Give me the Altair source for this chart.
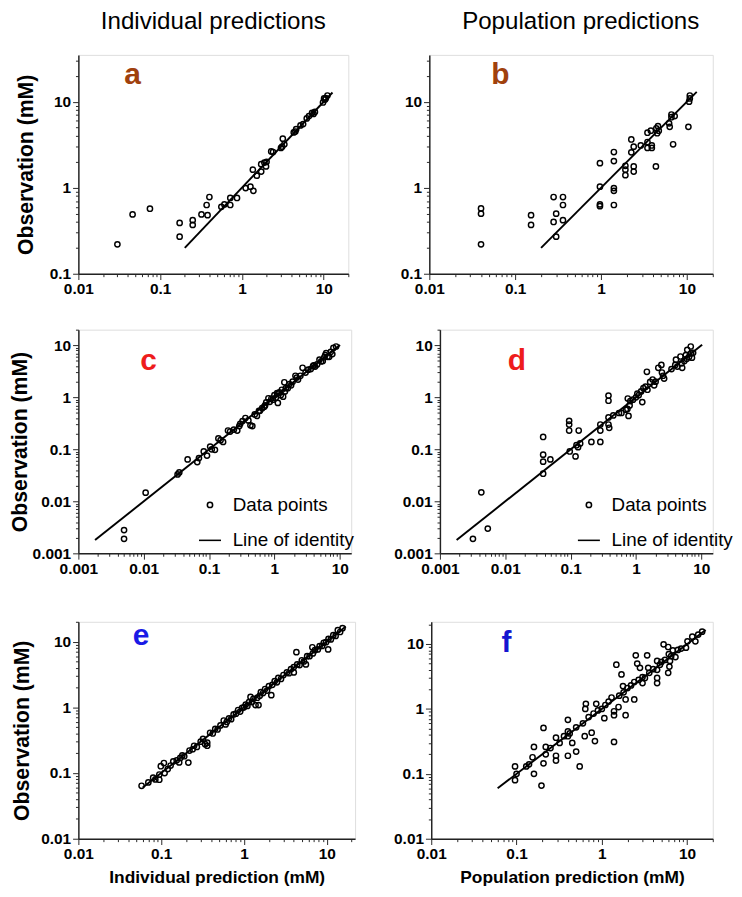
import altair as alt
import pandas as pd

FONT = "Liberation Sans"

col_titles = ["Individual predictions", "Population predictions"]
x_titles = ["Individual prediction (mM)", "Population prediction (mM)"]
y_title = "Observation (mM)"
legend_labels = ["Data points", "Line of identity"]
letters = ["a", "b", "c", "d", "e", "f"]
letter_colors = ["#a0410d", "#a0410d", "#ee1c1c", "#ee1c1c", "#1a1ae6", "#1515d0"]

# (prediction, observation) pairs
pts_a = [(0.030, 0.22), (0.046, 0.49), (0.075, 0.57), (0.173, 0.39), (0.173, 0.27), (0.25, 0.42),
         (0.25, 0.37), (0.32, 0.49), (0.38, 0.48), (0.37, 0.63), (0.40, 0.78), (0.56, 0.60),
         (0.61, 0.64), (0.72, 0.63), (0.72, 0.76), (0.87, 0.76), (1.11, 0.99), (1.27, 1.03),
         (1.38, 0.92), (1.36, 1.62), (1.52, 1.38), (1.72, 1.54), (1.72, 1.88), (1.88, 1.96),
         (1.97, 1.77), (2.0, 2.0), (2.28, 2.64), (2.4, 2.6), (3.0, 2.9), (3.1, 3.0), (3.16, 3.72),
         (3.3, 3.2), (4.3, 4.4), (4.5, 4.5), (4.6, 4.8), (5.2, 5.3), (5.6, 5.5), (6.2, 6.4),
         (6.6, 6.8), (7.2, 7.4), (7.5, 7.2), (7.8, 7.6), (9.8, 9.8), (10.1, 10.9), (10.4, 10.6),
         (10.6, 11.0), (11.1, 11.8)]
pts_b = [(0.040, 0.22), (0.040, 0.575), (0.040, 0.50), (0.153, 0.48), (0.153, 0.37), (0.28, 0.78),
         (0.28, 0.40), (0.30, 0.50), (0.36, 0.78), (0.36, 0.63), (0.36, 0.42), (0.30, 0.27),
         (0.97, 1.03), (0.97, 0.64), (0.97, 0.61), (0.97, 1.93), (1.41, 2.6), (1.41, 2.04),
         (1.41, 0.99), (1.41, 0.92), (1.41, 0.63), (1.92, 1.8), (1.92, 1.62), (1.92, 1.4),
         (2.25, 3.64), (2.25, 2.58), (2.4, 3.0), (2.4, 1.77), (2.4, 1.54), (2.9, 3.1),
         (3.47, 4.36), (3.47, 3.4), (3.47, 2.9), (3.9, 3.1), (3.9, 2.9), (3.8, 4.6), (4.35, 1.77),
         (4.4, 4.9), (4.6, 5.2), (4.7, 4.6), (4.5, 4.3), (6.2, 5.6), (6.3, 5.1), (6.9, 3.2),
         (6.6, 7.1), (6.6, 6.6), (7.2, 6.8), (10.4, 5.1), (10.8, 11.8), (10.8, 10.9), (10.6, 10.0)]
pts_c = [(0.005, 0.0028), (0.005, 0.0019), (0.0107, 0.0147), (0.033, 0.033), (0.035, 0.036),
         (0.047, 0.064), (0.066, 0.057), (0.070, 0.068), (0.083, 0.091), (0.093, 0.076),
         (0.104, 0.113), (0.11, 0.10), (0.123, 0.098), (0.139, 0.162), (0.15, 0.15), (0.164, 0.139),
         (0.195, 0.23), (0.21, 0.22), (0.24, 0.24), (0.27, 0.23), (0.29, 0.28), (0.3, 0.31),
         (0.325, 0.35), (0.36, 0.40), (0.40, 0.36), (0.43, 0.29), (0.46, 0.28), (0.5, 0.47),
         (0.54, 0.44), (0.58, 0.55), (0.60, 0.55), (0.65, 0.62), (0.70, 0.66), (0.72, 0.7),
         (0.75, 0.80), (0.81, 0.96), (0.85, 0.82), (0.9, 0.95), (0.95, 0.9), (1.0, 1.1), (1.05, 0.98),
         (1.1, 1.2), (1.13, 0.78), (1.15, 1.2), (1.2, 1.25), (1.25, 1.1), (1.3, 1.4), (1.36, 1.03),
         (1.42, 1.95), (1.45, 1.3), (1.5, 1.5), (1.6, 1.5), (1.7, 1.8), (1.8, 1.7), (1.9, 2.0),
         (2.1, 2.6), (2.2, 2.4), (2.3, 2.2), (2.5, 2.6), (2.7, 3.7), (3.0, 3.0), (3.3, 3.4),
         (3.6, 3.5), (3.9, 4.0), (4.0, 4.1), (4.2, 3.9), (4.5, 4.3), (4.9, 5.3), (5.2, 4.9),
         (5.5, 5.0), (5.8, 5.9), (6.0, 6.5), (6.2, 7.1), (6.5, 6.0), (6.9, 6.0), (7.3, 7.5),
         (7.7, 6.8), (8.0, 8.9), (8.8, 9.5)]
pts_d = [(0.0032, 0.0019), (0.0054, 0.003), (0.0043, 0.0149), (0.038, 0.173), (0.038, 0.079),
         (0.038, 0.058), (0.038, 0.034), (0.049, 0.064), (0.095, 0.354), (0.095, 0.30),
         (0.095, 0.23), (0.097, 0.091), (0.133, 0.23), (0.123, 0.12), (0.13, 0.11), (0.119, 0.073),
         (0.14, 0.13), (0.208, 0.139), (0.285, 0.139), (0.285, 0.23), (0.285, 0.30), (0.38, 1.08),
         (0.38, 0.86), (0.38, 0.41), (0.38, 0.30), (0.39, 0.26), (0.45, 0.45), (0.55, 0.5),
         (0.6, 0.5), (0.77, 0.44), (0.74, 0.6), (0.7, 0.58), (0.75, 0.95), (0.8, 0.7), (0.82, 0.85),
         (0.9, 0.9), (1.0, 1.0), (1.05, 1.18), (1.1, 1.1), (1.25, 0.81), (1.2, 1.3), (1.3, 1.5),
         (1.47, 3.1), (1.4, 1.6), (1.5, 1.4), (1.65, 1.98), (1.8, 2.2), (1.9, 1.7), (2.0, 2.0),
         (2.2, 3.7), (2.45, 4.2), (2.6, 2.6), (2.5, 3.0), (2.7, 2.3), (3.5, 3.5), (4.1, 5.3),
         (4.0, 4.2), (4.3, 3.9), (4.8, 6.1), (5.1, 3.7), (5.0, 4.5), (5.5, 5.0), (5.8, 6.5),
         (6.1, 8.2), (6.0, 5.5), (6.5, 6.0), (6.9, 9.5), (7.2, 5.8), (7.0, 7.0), (7.5, 7.2)]
pts_e = [(0.058, 0.064), (0.07, 0.072), (0.08, 0.085), (0.085, 0.08), (0.095, 0.095), (0.095, 0.079),
         (0.099, 0.127), (0.108, 0.142), (0.11, 0.1), (0.12, 0.115), (0.13, 0.13), (0.14, 0.15),
         (0.154, 0.156), (0.165, 0.145), (0.17, 0.17), (0.18, 0.185), (0.19, 0.18), (0.213, 0.144),
         (0.22, 0.22), (0.24, 0.23), (0.25, 0.26), (0.27, 0.25), (0.3, 0.3), (0.32, 0.33),
         (0.34, 0.275), (0.36, 0.29), (0.36, 0.26), (0.39, 0.41), (0.42, 0.4), (0.45, 0.47),
         (0.48, 0.46), (0.52, 0.53), (0.57, 0.63), (0.6, 0.55), (0.62, 0.6), (0.66, 0.68),
         (0.7, 0.66), (0.75, 0.78), (0.8, 0.8), (0.85, 0.91), (0.9, 0.86), (0.95, 0.98), (1.0, 1.0),
         (1.05, 1.1), (1.1, 1.05), (1.15, 1.2), (1.2, 1.44), (1.25, 1.2), (1.3, 1.35), (1.38, 1.08),
         (1.45, 1.4), (1.5, 1.08), (1.55, 1.5), (1.6, 1.7), (1.7, 1.65), (1.8, 1.9), (1.9, 1.8),
         (2.0, 2.1), (2.14, 1.53), (2.2, 2.2), (2.35, 2.5), (2.5, 2.4), (2.6, 2.8), (2.8, 2.7),
         (3.0, 3.1), (3.3, 3.4), (3.5, 3.3), (3.7, 3.8), (4.0, 3.4), (4.0, 4.1), (4.3, 6.9),
         (4.4, 4.5), (4.7, 4.4), (5.0, 5.2), (5.3, 5.0), (5.6, 4.5), (5.8, 6.0), (6.2, 6.0),
         (6.7, 8.2), (6.8, 6.6), (7.2, 7.4), (7.8, 7.6), (8.2, 8.5), (8.8, 8.6), (9.2, 9.6),
         (9.8, 9.8), (10.4, 7.6), (10.5, 11.0), (11.2, 10.8), (12.0, 12.5), (12.8, 12.2),
         (13.6, 14.9), (14.5, 14.0), (15.5, 16.0)]
pts_f = [(0.096, 0.13), (0.096, 0.08), (0.1, 0.1), (0.13, 0.13), (0.14, 0.14), (0.154, 0.18),
         (0.16, 0.26), (0.16, 0.10), (0.196, 0.066), (0.207, 0.51), (0.22, 0.26), (0.207, 0.145),
         (0.22, 0.2), (0.25, 0.25), (0.29, 0.36), (0.29, 0.19), (0.29, 0.16), (0.32, 0.3),
         (0.36, 0.38), (0.40, 0.68), (0.40, 0.45), (0.40, 0.38), (0.40, 0.19), (0.42, 0.42),
         (0.45, 0.30), (0.5, 0.22), (0.5, 0.52), (0.55, 0.13), (0.6, 0.6), (0.63, 0.38), (0.65, 1.2),
         (0.64, 1.0), (0.7, 0.75), (0.76, 0.43), (0.8, 0.85), (0.83, 0.32), (0.86, 1.2), (0.9, 0.95),
         (1.0, 1.0), (1.07, 0.72), (1.1, 1.15), (1.2, 1.3), (1.3, 1.5), (1.39, 0.31), (1.39, 0.92),
         (1.39, 0.8), (1.48, 4.8), (1.57, 1.07), (1.6, 1.6), (1.7, 3.4), (1.77, 2.25), (1.8, 1.8),
         (1.9, 0.8), (1.9, 1.4), (2.0, 2.1), (2.2, 2.3), (2.4, 1.4), (2.4, 2.6), (2.5, 6.7),
         (2.6, 5.0), (2.7, 2.8), (2.8, 4.3), (3.0, 2.5), (3.0, 3.1), (3.2, 3.0), (3.4, 6.7),
         (3.5, 4.3), (3.6, 3.6), (4.0, 4.1), (4.45, 4.0), (4.45, 3.0), (4.45, 2.5), (4.45, 5.5),
         (4.8, 4.8), (5.0, 5.3), (5.3, 9.9), (5.5, 5.7), (6.0, 9.0), (6.1, 7.0), (6.3, 5.5),
         (6.2, 4.5), (6.0, 3.6), (6.5, 6.5), (6.8, 8.0), (7.3, 6.3), (7.8, 8.1), (8.5, 8.5),
         (9.7, 8.8), (10.1, 11.0), (11.5, 13.0), (12.5, 11.0), (13.5, 14.0), (15.0, 15.5)]

# identity line endpoints per panel
lines = [[0.2, 12.8], [0.2, 13.0], [0.0018, 10.1], [0.0018, 10.3], [0.06, 17.0], [0.06, 16.5]]
# letter anchor (data coordinates)
letter_at = [(0.046, 20.0), (0.067, 20.0), (0.0119, 5.0), (0.015, 5.0), (0.057, 11.9), (0.076, 10.4)]
x_domains = [[0.01, 20], [0.01, 20], [0.001, 15], [0.001, 15], [0.01, 22], [0.01, 20]]
y_domains = [[0.1, 35], [0.1, 35], [0.001, 20], [0.001, 20], [0.01, 20], [0.01, 22]]

MAJOR = "abs(log(datum.value)/LN10 - round(log(datum.value)/LN10)) < 0.01"


def tick_values(lo, hi):
    out = []
    for e in range(-4, 3):
        for k in range(1, 10):
            v = round(k * 10 ** e, 8)
            if lo * 0.9999 <= v <= hi * 1.0001:
                out.append(v)
    return out


def make_axis(dom, title, title_size, title_pad):
    kw = dict(
        values=tick_values(*dom),
        labelExpr=f"{MAJOR} ? format(datum.value, '~g') : ''",
        tickSize={"condition": {"test": MAJOR, "value": 6}, "value": 3},
        labelOverlap=False,
        labelFlush=False,
        grid=False,
        labelFont=FONT,
        labelFontSize=16,
        labelFontWeight="bold",
        labelColor="black",
        labelPadding=2,
        domainColor="#222",
        domainWidth=1.5,
        tickColor="#222",
        tickWidth=1,
    )
    if title:
        kw.update(title=title, titleFont=FONT, titleFontSize=title_size, titleFontWeight="bold",
                  titleColor="black", titlePadding=title_pad)
    else:
        kw["title"] = None
    return alt.Axis(**kw)


YPAD = [12, 1, 8]
TITLE_DX = [0, 10]


def panel(i, pts, w, h, legend_xy=None):
    col = i % 2
    row = i // 2
    dfp = pd.DataFrame(pts, columns=["x", "y"])
    dfp["kind"] = legend_labels[0]
    xs = alt.Scale(type="log", domain=x_domains[i], nice=False)
    ys = alt.Scale(type="log", domain=y_domains[i], nice=False)
    xt = x_titles[col] if row == 2 else None
    yt = y_title if col == 0 else None
    enc = dict(
        x=alt.X("x:Q", scale=xs, axis=make_axis(x_domains[i], xt, 18, 7)),
        y=alt.Y("y:Q", scale=ys, axis=make_axis(y_domains[i], yt, 22, YPAD[row])),
    )
    if legend_xy is not None:
        lg = alt.Legend(orient="none", legendX=legend_xy[0], legendY=legend_xy[1], title=None,
                        labelFont=FONT, labelFontSize=19.5, labelColor="black", labelOffset=11,
                        rowPadding=14, padding=0, symbolStrokeWidth=1.6, symbolStrokeColor="black",
                        symbolFillColor="transparent")
        enc["shape"] = alt.Shape("kind:O", scale=alt.Scale(domain=legend_labels, range=["circle", "stroke"]),
                                 legend=lg)
        enc["size"] = alt.Size("kind:O", scale=alt.Scale(domain=legend_labels, range=[30, 520]), legend=lg)
    points = alt.Chart(dfp).mark_point(filled=False, color="black", strokeWidth=1.5, opacity=1,
                                       size=30).encode(**enc)
    dfl = pd.DataFrame({"x": lines[i], "y": lines[i]})
    line = alt.Chart(dfl).mark_line(color="black", strokeWidth=2).encode(x="x:Q", y="y:Q")
    dft = pd.DataFrame({"x": [letter_at[i][0]], "y": [letter_at[i][1]], "t": [letters[i]]})
    txt = alt.Chart(dft).mark_text(font=FONT, fontSize=31, fontWeight="bold", color=letter_colors[i]).encode(
        x="x:Q", y="y:Q", text="t:N")
    props = dict(width=w, height=h)
    if row == 0:
        props["title"] = alt.TitleParams(col_titles[col], font=FONT, fontSize=25, fontWeight="normal",
                                         color="black", anchor="middle", offset=20, dx=TITLE_DX[col])
    return alt.layer(points, line, txt).properties(**props)


pa = panel(0, pts_a, 280, 227)
pb = panel(1, pts_b, 294, 227)
pc = panel(2, pts_c, 283, 232, legend_xy=(124, 172))
pd_ = panel(3, pts_d, 283, 232, legend_xy=(142, 172))
pe = panel(4, pts_e, 287, 225)
pf = panel(5, pts_f, 292, 225)

IND = dict(shape="independent", size="independent")

row1 = alt.hconcat(pa, pb, spacing=84, bounds="flush")
row2 = alt.hconcat(pc, pd_, spacing=92, bounds="flush").resolve_scale(**IND).resolve_legend(**IND)
row3 = alt.hconcat(pe, pf, spacing=79, bounds="flush")

inner = alt.concat(row2, row3, columns=1, spacing=37, align="none").resolve_scale(**IND).resolve_legend(**IND)
chart = alt.concat(row1, inner, columns=1, spacing=24, align="none").resolve_scale(**IND).resolve_legend(
    **IND).properties(padding={"top": -16, "left": 0, "right": 0, "bottom": 0}).configure_view(
    stroke=None).configure(background="white")

chart.save("out.html", embed_options={"renderer": "svg", "actions": False})
